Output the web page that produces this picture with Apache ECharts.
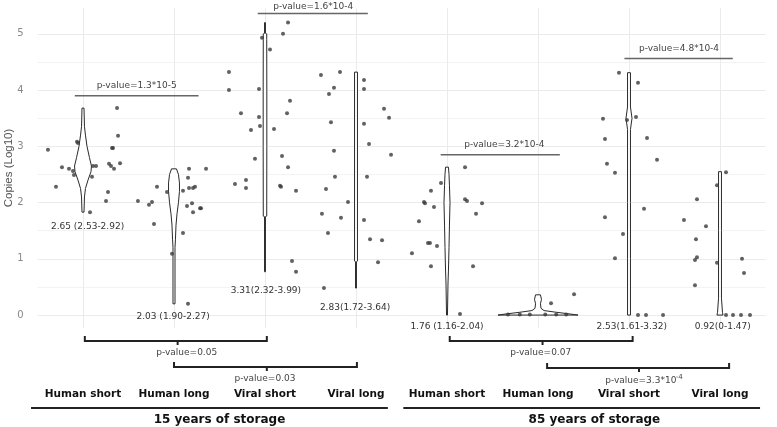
<!DOCTYPE html>
<html><head><meta charset="utf-8">
<script src="https://cdn.jsdelivr.net/npm/echarts@6/dist/echarts.min.js"></script>
<style>html,body{margin:0;padding:0;background:#fff}#c{width:777px;height:427px}</style>
</head><body><div id="c"></div><script>
// ---------------- data ----------------
const categories = ['Human short','Human long','Viral short','Viral long','Human short','Human long','Viral short','Viral long'];
const storageGroups = ['15 years of storage','85 years of storage'];
const yLabelTicks = [0,1,2,3,4,5];
const yGridTicks = [0,0.5,1,1.5,2,2.5,3,3.5,4,4.5,5];

// jittered points per group: [jitter, log10 copies]
const pointsHS15 = [[-0.385,2.94],[-0.297,2.28],[-0.231,2.63],[-0.154,2.60],[-0.110,2.56],[-0.099,2.49],[-0.066,3.08],[-0.055,3.06],[0.077,1.83],[0.099,2.46],[0.110,2.65],[0.143,2.65],[0.253,2.03],[0.275,2.19],[0.286,2.69],[0.308,2.65],[0.319,2.97],[0.330,2.97],[0.341,2.60],[0.374,3.68],[0.385,3.19],[0.407,2.70]];
const pointsHL15 = [[-0.396,2.03],[-0.275,1.96],[-0.242,2.01],[-0.187,2.28],[-0.220,1.62],[-0.077,2.19],[-0.022,1.09],[0.099,2.21],[0.099,1.46],[0.143,1.94],[0.154,2.44],[0.165,2.60],[0.165,2.26],[0.198,1.99],[0.209,2.26],[0.209,1.83],[0.231,2.28],[0.286,1.90],[0.297,1.90],[0.352,2.60],[0.154,0.20]];
const pointsVS15 = [[-0.396,4.32],[-0.396,4.00],[-0.264,3.59],[-0.154,3.29],[-0.110,2.78],[-0.330,2.33],[-0.209,2.40],[-0.209,2.26],[-0.066,4.02],[-0.066,3.52],[-0.055,3.36],[-0.033,4.93],[0.055,4.72],[0.198,5.00],[0.253,5.20],[0.275,3.81],[0.242,3.59],[0.099,3.31],[0.187,2.83],[0.253,2.63],[0.165,2.30],[0.176,2.28],[0.341,2.21],[0.297,0.96],[0.341,0.77]];
const pointsVL15 = [[-0.385,4.27],[-0.176,4.32],[-0.242,4.04],[-0.297,3.93],[-0.275,3.43],[-0.242,2.92],[-0.231,2.46],[-0.330,2.24],[-0.088,2.01],[-0.374,1.80],[-0.165,1.73],[0.088,4.18],[0.088,4.02],[0.308,3.67],[0.363,3.51],[0.088,3.40],[0.143,3.04],[0.385,2.85],[0.121,2.46],[0.088,1.69],[-0.308,1.46],[0.154,1.35],[0.286,1.33],[0.242,0.94],[-0.352,0.48]];
const pointsHS85 = [[-0.385,1.10],[-0.308,1.67],[-0.253,2.01],[-0.242,1.99],[-0.209,1.28],[-0.187,1.28],[-0.176,2.21],[-0.176,0.87],[-0.143,1.92],[-0.110,1.23],[-0.066,2.35],[0.143,0.02],[0.198,2.63],[0.198,2.06],[0.220,2.03],[0.286,0.87],[0.319,1.80],[0.385,1.99]];
const pointsHL85 = [[0.143,0.21],[0.396,0.37],[-0.33,0.01],[-0.20,0.01],[-0.09,0.01],[0.08,0.01],[0.20,0.01],[0.31,0.01]];
const pointsVS85 = [[-0.286,3.49],[-0.264,3.13],[-0.242,2.69],[-0.154,2.53],[-0.110,4.31],[-0.022,3.47],[0.077,3.52],[0.099,4.13],[0.198,3.15],[0.308,2.76],[-0.264,1.74],[-0.066,1.44],[-0.154,1.01],[0.165,1.89],[0.099,0],[0.187,0],[0.374,0]];
const pointsVL85 = [[-0.396,1.69],[-0.253,2.06],[-0.154,1.58],[-0.264,1.35],[-0.275,0.98],[-0.253,1.03],[-0.275,0.53],[-0.033,0.93],[-0.033,2.31],[0.066,2.54],[0.242,1.00],[0.264,0.75],[0.066,0],[0.143,0],[0.231,0],[0.330,0]];
const groupPoints = [pointsHS15,pointsHL15,pointsVS15,pointsVL15,pointsHS85,pointsHL85,pointsVS85,pointsVL85];

// violin density outlines: values and half-widths (fraction of a category band)
const violinValues = [
  [1.83,2.1,2.25,2.4,2.55,2.65,2.8,3.0,3.2,3.35,3.68],
  [0.2,1.2,1.35,1.6,1.8,2.0,2.2,2.35,2.5,2.6],
  [0.77,1.75,1.76,3.0,4.0,4.9,5.0,5.01,5.2],
  [0.48,0.95,0.96,4.32],
  [0,0.57,0.8,1.2,1.6,2.0,2.3,2.5,2.63],
  [0,0.02,0.05,0.08,0.12,0.2,0.28,0.36],
  [0,1.0,2.0,3.3,3.5,3.7,4.31],
  [0,0.05,0.3,1.5,2.55]
];
const violinWidths = [
  [0.011,0.016,0.027,0.055,0.088,0.093,0.071,0.044,0.027,0.016,0.011],
  [0.011,0.011,0.016,0.022,0.033,0.049,0.060,0.060,0.049,0.027],
  [0.005,0.005,0.019,0.020,0.020,0.019,0.019,0.005,0.005],
  [0.005,0.005,0.016,0.016],
  [0.005,0.011,0.016,0.022,0.027,0.033,0.027,0.022,0.016],
  [0.44,0.35,0.20,0.066,0.033,0.027,0.038,0.027],
  [0.016,0.016,0.016,0.016,0.033,0.016,0.016],
  [0.033,0.027,0.016,0.016,0.016]
];

const medianLabels = ['2.65 (2.53-2.92)','2.03 (1.90-2.27)','3.31(2.32-3.99)','2.83(1.72-3.64)','1.76 (1.16-2.04)','','2.53(1.61-3.32)','0.92(0-1.47)'];
const topPValues = ['p-value=1.3*10-5','p-value=1.6*10-4','p-value=3.2*10-4','p-value=4.8*10-4'];
const bottomPValues = ['p-value=0.05','p-value=0.03','p-value=0.07','p-value=3.3*10'];
const bottomPSup = ['','','','-4'];

// ---------------- layout (positions, not data) ----------------
const Y_MIN = -0.23, Y_MAX = 5.46;
const medianPos = [[0.05,1.58],[0.99,-0.02],[2.01,0.44],[2.99,0.14],[4.0,-0.21],null,[6.03,-0.21],[7.03,-0.21]];
const topBracketPos = [ // x0, x1, y, textX
  [-0.09,1.27,3.9,0.59],[1.92,3.13,5.36,2.53],[3.93,5.24,2.85,4.63],[5.95,7.14,4.56,6.55]];
const bottomBracketPos = [ // x0, x1, centre tick x, px below plot, text x
  [0.02,2.02,1.04,13,1.14],[1.0,3.01,2.02,39,2.0],[4.03,6.04,5.05,13,5.03],[5.10,7.10,6.11,40,6.13]];
const groupLinePos = [[-0.571,3.35,1.5],[3.52,7.44,5.62]];

const FONT = '"DejaVu Sans", Verdana, sans-serif';
const chart = echarts.init(document.getElementById('c'), null, {renderer:'canvas'});

const scatterData = [];
groupPoints.forEach((arr,i)=>arr.forEach(p=>scatterData.push([i+p[0], p[1]])));

function violinRender(params, api){
  const i = params.dataIndex;
  const vals = violinValues[i], ws = violinWidths[i];
  const pts = [];
  for (let k=0;k<vals.length;k++) pts.push(api.coord([i-ws[k], vals[k]]));
  for (let k=vals.length-1;k>=0;k--) pts.push(api.coord([i+ws[k], vals[k]]));
  return {type:'polygon', shape:{points:pts}, style:{fill:'#ffffff', stroke:'#2a2a2a', lineWidth:1}};
}

function annotRender(params, api){
  const children = [];
  const base = api.coord([0, Y_MIN])[1];
  const txt = (x,y,t,size,color,weight,align) => ({type:'text', x:x, y:y,
    style:{text:t, fill:color, font:(weight||'normal')+' '+size+'px '+FONT, align:align||'center', verticalAlign:'middle'}});
  const line = (x1,y1,x2,y2,color,w) => ({type:'line', shape:{x1:x1,y1:y1,x2:x2,y2:y2}, style:{stroke:color, lineWidth:w}});
  medianLabels.forEach((t,i)=>{
    if(!t) return;
    const p = api.coord(medianPos[i]);
    children.push(txt(p[0],p[1],t,9,'#333'));
  });
  topBracketPos.forEach((b,i)=>{
    const a = api.coord([b[0],b[2]]), c = api.coord([b[1],b[2]]);
    children.push(line(a[0],a[1],c[0],c[1],'#666',1.5));
    const tx = api.coord([b[3],b[2]]);
    children.push(txt(tx[0],Math.max(a[1]-10,7),topPValues[i],9,'#444'));
  });
  bottomBracketPos.forEach((b,i)=>{
    const y = base + b[3];
    const x0 = api.coord([b[0],0])[0], x1 = api.coord([b[1],0])[0], xc = api.coord([b[2],0])[0];
    children.push(line(x0,y,x1,y,'#222',2));
    children.push(line(x0,y-5,x0,y+1,'#222',2));
    children.push(line(x1,y-5,x1,y+1,'#222',2));
    children.push(line(xc,y,xc,y+4,'#222',2));
    const tx = api.coord([b[4],0])[0];
    if (bottomPSup[i]) {
      children.push(txt(tx,y+13,bottomPValues[i],9,'#444'));
      children.push(txt(tx+35,y+9,bottomPSup[i],7,'#444','normal','left'));
    } else {
      children.push(txt(tx,y+12,bottomPValues[i],9,'#444'));
    }
  });
  groupLinePos.forEach((g,i)=>{
    const y = base + 80;
    const x0 = api.coord([g[0],0])[0], x1 = api.coord([g[1],0])[0], xt = api.coord([g[2],0])[0];
    children.push(line(x0,y,x1,y,'#222',2));
    children.push(txt(xt,base+92,storageGroups[i],12,'#111','bold'));
  });
  return {type:'group', children:children};
}

chart.setOption({
  animation:false,
  backgroundColor:'#ffffff',
  grid:{left:37.5, right:11.5, top:8, bottom:99, containLabel:false, outerBoundsMode:'none'},
  xAxis:{
    type:'value', min:-0.5, max:7.5,
    axisLine:{show:false},
    axisTick:{show:false, customValues:[0,1,2,3,4,5,6,7]},
    axisLabel:{customValues:[0,1,2,3,4,5,6,7], formatter:(v)=>categories[Math.round(v)],
      margin:61, fontFamily:FONT, fontWeight:'bold', fontSize:10.5, color:'#111'},
    splitLine:{show:true, lineStyle:{color:'#ebebeb', width:1}}
  },
  yAxis:{
    type:'value', min:Y_MIN, max:Y_MAX,
    name:'Copies (Log10)', nameLocation:'middle', nameGap:23, nameMoveOverlap:false,
    nameTextStyle:{fontFamily:'"Liberation Sans", Arial, sans-serif', fontSize:11.5, color:'#555'},
    axisLine:{show:false},
    axisTick:{show:false, customValues:yGridTicks},
    axisLabel:{customValues:yLabelTicks, margin:14, fontFamily:FONT, fontSize:10, color:'#8a8a8a'},
    splitLine:{show:true, lineStyle:{color:['#ebebeb','#f3f3f3'], width:1}}
  },
  series:[
    {type:'custom', name:'violins', renderItem:violinRender, data:categories.map((c,i)=>[i,0]), z:2, silent:true},
    {type:'scatter', name:'points', data:scatterData, symbol:'circle', symbolSize:4,
      itemStyle:{color:'#3a3a3a'}, z:3, silent:true},
    {type:'custom', name:'annotations', renderItem:annotRender, data:[[0,0]], clip:false, z:4, silent:true}
  ]
});
</script></body></html>
